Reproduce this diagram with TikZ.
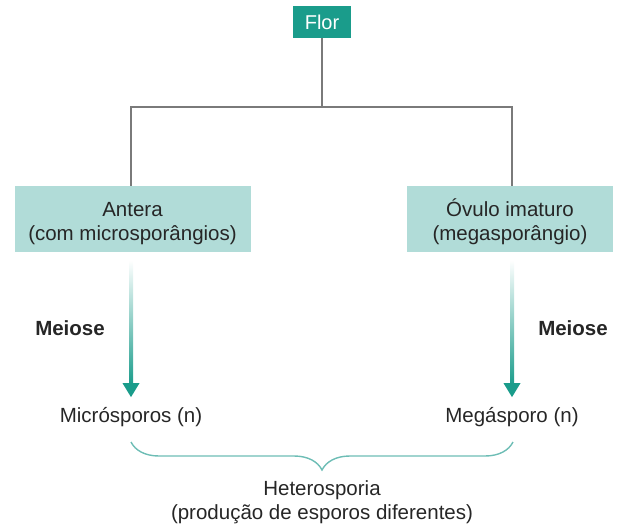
\documentclass[tikz,border=0pt]{standalone}
\usepackage{fontspec}
\setmainfont{Liberation Sans}
\usetikzlibrary{calc,decorations.pathreplacing,arrows.meta}
\definecolor{tealdark}{HTML}{1A9C8B}
\definecolor{teallight}{HTML}{B1DCD8}
\definecolor{linegray}{HTML}{7A7A7A}
\definecolor{bracecol}{HTML}{6DBDB5}
\definecolor{txt}{HTML}{262626}
\newcommand{\mystrut}{\rule{0pt}{23pt}}
\begin{document}
\begin{tikzpicture}[x=1pt,y=-1pt,
  every node/.style={font=\fontsize{20.5}{24.5}\selectfont, text=txt},
  topbox/.style={fill=tealdark, text=white, font=\fontsize{20}{24}\selectfont, minimum width=58pt, minimum height=32pt, inner sep=0pt},
  midbox/.style={fill=teallight, minimum height=66pt, inner sep=0pt, align=center},
  conn/.style={draw=linegray, line width=1.5pt},
  lbl/.style={align=center, inner sep=0pt},
  boldlbl/.style={font=\fontsize{20.5}{24}\selectfont\bfseries, inner sep=0pt}]
\useasboundingbox (0,0) rectangle (627,525);
\node[topbox] (flor) at (322,22) {Flor};
\node[midbox, minimum width=236pt] (antera) at (132.5,219) {\mystrut Antera\\(com microsporângios)};
\node[midbox, minimum width=206pt] (ovulo) at (510,219) {\mystrut Óvulo imaturo\\(megasporângio)};
\coordinate (junc) at (322,107);
\draw[conn] (flor.south) -- (junc);
\draw[conn] (antera.north -| 131,0) |- (junc) -| (ovulo.north -| 512,0);
\node[lbl] (micro) at (131,417) {Micrósporos (n)};
\node[lbl] (mega) at (512,417) {Megásporo (n)};
\node[boldlbl] (meio1) at (70,328) {Meiose};
\node[boldlbl] (meio2) at (573,328) {Meiose};
% arrows
\foreach \src/\dst/\xx in {antera/micro/131, ovulo/mega/512}{
  \shade[top color=white, bottom color=tealdark]
    ($(\src.south -| \xx,0)+(-2,8)$) rectangle ($(\dst.north -| \xx,0)+(2,-22)$);
  \fill[tealdark] ($(\dst.north -| \xx,0)+(-8.5,-24)$) -- ($(\dst.north -| \xx,0)+(8.5,-24)$) -- ($(\dst.north -| \xx,0)+(0,-10)$) -- cycle;
}
\coordinate (bl) at (131,442);
\coordinate (br) at (513,442);
\draw[bracecol, line width=1.4pt, decorate,
  decoration={brace, mirror, amplitude=28pt, aspect=0.5}] (bl) -- (br);
\node[lbl] (hetero) at (322,502) {Heterosporia\\(produção de esporos diferentes)};
\end{tikzpicture}
\end{document}
